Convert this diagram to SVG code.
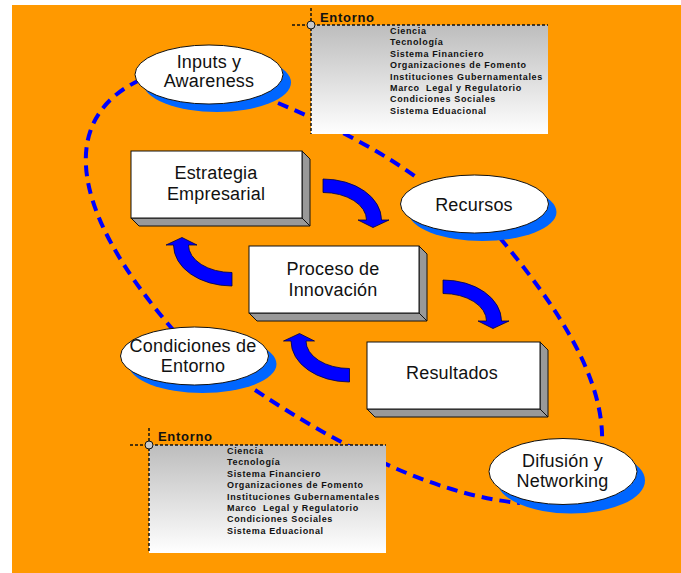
<svg xmlns="http://www.w3.org/2000/svg" width="681" height="573" viewBox="0 0 681 573">
  <defs>
    <linearGradient id="envFill" x1="0" y1="0" x2="0" y2="1">
      <stop offset="0" stop-color="#bdbdbd"/>
      <stop offset="1" stop-color="#ffffff"/>
    </linearGradient>
    <!-- curved block arrow, origin at the outer corner of its flat tail -->
    <path id="curveArrow" d="M0,0 A58.5,41 0 0 1 58.5,41 L66,41 L50,48.5 L35,41 L43.5,41 A43.5,27.5 0 0 0 0,13.5 Z"/>
    <style>
      .node-text { font-family: "Liberation Sans", Arial, sans-serif; font-size: 18px; fill: #111; text-anchor: middle; letter-spacing: 0.2px; }
      .env-title { font-family: "Liberation Sans", Arial, sans-serif; font-size: 13px; font-weight: bold; fill: #111; letter-spacing: 0.7px; }
      .env-item { font-family: "Liberation Sans", Arial, sans-serif; font-size: 9px; font-weight: bold; fill: #111; letter-spacing: 0.65px; }
      .env-line { stroke: #111; stroke-width: 1.5; stroke-dasharray: 3 2; fill: none; }
      .env-knob { fill: #c8c8c8; stroke: #111; stroke-width: 1; }
      .oval { fill: #ffffff; stroke: #111; stroke-width: 1; }
      .oval-shadow { fill: #0066ff; }
      .face { fill: #ffffff; stroke: #111; stroke-width: 1; }
      .side { fill: #999999; stroke: #111; stroke-width: 1; stroke-linejoin: round; }
      .flow { fill: #0000ff; stroke: #000044; stroke-width: 0.8; }
      .link { fill: none; stroke: #0000ff; stroke-width: 4; stroke-dasharray: 11 7; }
    </style>
  </defs>

  <!-- background panel -->
  <rect x="12" y="5" width="669" height="568" fill="#ff9900"/>

  <!-- dashed relations between the ovals -->
  <g id="connectors">
    <path class="link" d="M140,80 C65,115 60,200 175,332"/>
    <path class="link" d="M278,103 C330,125 380,150 420,180"/>
    <path class="link" d="M500,238 C560,310 605,380 602,445"/>
    <path class="link" d="M255,390 C330,440 430,495 520,503"/>
  </g>

  <!-- environment panels -->
  <g id="entorno-top">
    <rect x="311" y="25" width="237" height="109" fill="url(#envFill)"/>
    <line class="env-line" x1="292" y1="25" x2="548" y2="25"/>
    <line class="env-line" x1="311" y1="8" x2="311" y2="134"/>
    <circle class="env-knob" cx="311" cy="25" r="4"/>
    <text class="env-title" x="320" y="21.5">Entorno</text>
    <text class="env-item" x="390" y="34">Ciencia</text>
    <text class="env-item" x="390" y="45.4">Tecnología</text>
    <text class="env-item" x="390" y="56.8">Sistema Financiero</text>
    <text class="env-item" x="390" y="68.2">Organizaciones de Fomento</text>
    <text class="env-item" x="390" y="79.6">Instituciones Gubernamentales</text>
    <text class="env-item" x="390" y="91" xml:space="preserve">Marco  Legal y Regulatorio</text>
    <text class="env-item" x="390" y="102.4">Condiciones Sociales</text>
    <text class="env-item" x="390" y="113.8">Sistema Eduacional</text>
  </g>

  <g id="entorno-bottom">
    <rect x="149" y="445" width="237" height="108" fill="url(#envFill)"/>
    <line class="env-line" x1="130" y1="445" x2="386" y2="445"/>
    <line class="env-line" x1="149" y1="428" x2="149" y2="553"/>
    <circle class="env-knob" cx="149" cy="445" r="4"/>
    <text class="env-title" x="158" y="441">Entorno</text>
    <text class="env-item" x="227" y="454">Ciencia</text>
    <text class="env-item" x="227" y="465.4">Tecnología</text>
    <text class="env-item" x="227" y="476.8">Sistema Financiero</text>
    <text class="env-item" x="227" y="488.2">Organizaciones de Fomento</text>
    <text class="env-item" x="227" y="499.6">Instituciones Gubernamentales</text>
    <text class="env-item" x="227" y="511" xml:space="preserve">Marco  Legal y Regulatorio</text>
    <text class="env-item" x="227" y="522.4">Condiciones Sociales</text>
    <text class="env-item" x="227" y="533.8">Sistema Eduacional</text>
  </g>

  <!-- cycle arrows -->
  <g id="cycle-arrows">
    <use class="flow" href="#curveArrow" transform="translate(323,179)"/>
    <use class="flow" href="#curveArrow" transform="translate(443,280)"/>
    <use class="flow" href="#curveArrow" transform="translate(349.5,382) rotate(180)"/>
    <use class="flow" href="#curveArrow" transform="translate(232,286) rotate(180)"/>
  </g>

  <!-- raised boxes -->
  <g id="estrategia">
    <polygon class="side" points="302,151 310,159 310,226 302,218"/>
    <polygon class="side" points="131,218 302,218 310,226 139,226"/>
    <rect class="face" x="131" y="151" width="171" height="67"/>
    <text class="node-text" x="216" y="179">Estrategia</text>
    <text class="node-text" x="216" y="200">Empresarial</text>
  </g>

  <g id="proceso">
    <polygon class="side" points="419,246 427,254 427,321 419,313"/>
    <polygon class="side" points="249,313 419,313 427,321 257,321"/>
    <rect class="face" x="249" y="246" width="170" height="67"/>
    <text class="node-text" x="333" y="275">Proceso de</text>
    <text class="node-text" x="333" y="296">Innovación</text>
  </g>

  <g id="resultados">
    <polygon class="side" points="540,342 548,350 548,417 540,409"/>
    <polygon class="side" points="367,409 540,409 548,417 375,417"/>
    <rect class="face" x="367" y="342" width="173" height="67"/>
    <text class="node-text" x="452" y="379">Resultados</text>
  </g>

  <!-- ovals -->
  <g id="inputs">
    <ellipse class="oval-shadow" cx="217" cy="82.5" rx="74" ry="29.5"/>
    <ellipse class="oval" cx="209" cy="74.5" rx="74" ry="29.5"/>
    <text class="node-text" x="209" y="67.5">Inputs y</text>
    <text class="node-text" x="209" y="87">Awareness</text>
  </g>

  <g id="recursos">
    <ellipse class="oval-shadow" cx="482.5" cy="212" rx="74" ry="29"/>
    <ellipse class="oval" cx="474.5" cy="204" rx="74" ry="29"/>
    <text class="node-text" x="474" y="210.5">Recursos</text>
  </g>

  <g id="condiciones">
    <ellipse class="oval-shadow" cx="202.5" cy="364" rx="74" ry="29"/>
    <ellipse class="oval" cx="194.5" cy="356" rx="74" ry="29"/>
    <text class="node-text" x="193" y="351.5">Condiciones de</text>
    <text class="node-text" x="193" y="371.5">Entorno</text>
  </g>

  <g id="difusion">
    <ellipse class="oval-shadow" cx="571" cy="480.5" rx="74" ry="33"/>
    <ellipse class="oval" cx="563" cy="471.5" rx="74" ry="33"/>
    <text class="node-text" x="562.5" y="467">Difusión y</text>
    <text class="node-text" x="562.5" y="487">Networking</text>
  </g>
</svg>
